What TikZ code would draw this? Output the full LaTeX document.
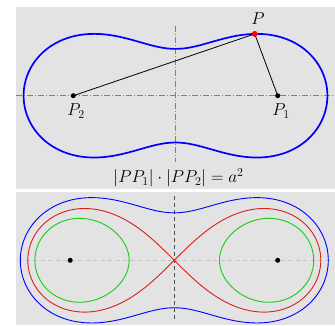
\documentclass[tikz,border=0pt]{standalone}
\usepackage{amsmath}
\definecolor{panel}{RGB}{227,227,227}
\definecolor{axisgray}{RGB}{128,128,128}
\definecolor{lightaxis}{RGB}{195,195,195}
\definecolor{darkaxis}{RGB}{80,80,80}
\definecolor{cblue}{RGB}{0,0,255}
\definecolor{cred}{RGB}{220,30,30}
\definecolor{cgreen}{RGB}{20,205,20}
\begin{document}
\begin{tikzpicture}[x=1pt,y=1pt,
  panelbg/.style={fill=panel,draw=none},
  dashdotaxis/.style={axisgray,line width=0.7pt,dash pattern=on 6pt off 2pt on 1pt off 2pt},
  hdash/.style={lightaxis,line width=0.7pt,dash pattern=on 4pt off 3.5pt},
  vdash/.style={darkaxis,line width=0.7pt,dash pattern=on 4pt off 3pt},
  focusdot/.style={circle,fill=black,inner sep=0pt,minimum size=5pt},
  pdot/.style={circle,fill=red,inner sep=0pt,minimum size=5.6pt},
  lbl/.style={font=\fontsize{17.2}{20}\selectfont,inner sep=0pt},
  seg/.style={black,line width=0.8pt},
  declare function={
    cs(\t)=cos(2*\t);
    rr(\t)=sqrt(cs(\t)+sqrt(cs(\t)*cs(\t)+0.4641));
    gr(\t)=1+0.81*cos(\t);
    gi(\t)=0.81*sin(\t);
    gm(\t)=sqrt(sqrt(gr(\t)*gr(\t)+gi(\t)*gi(\t)));
    ga(\t)=atan2(gi(\t),gr(\t))/2;
    ls(\t)=1+sin(\t)*sin(\t);
  }]
\useasboundingbox (0,0) rectangle (335,325);
% panels
\fill[panelbg] (16,135.7) rectangle (335,318);
\fill[panelbg] (16,0) rectangle (335,133);

% ---------- top panel ----------
\coordinate (tc) at (175.5,229.3);
\coordinate (hL) at (16,229.3);
\coordinate (hR) at (335,229.3);
\coordinate (vT) at (175.5,299);
\coordinate (vB) at (175.5,163.3);
\draw[dashdotaxis] (hL) -- (hR);
\draw[dashdotaxis] (vT) -- (vB);
\draw[cblue,line width=1.7pt,shift={(tc)}] plot[domain=0:360,samples=241,smooth cycle]
  ({102.2*rr(\x)*cos(\x)},{102.2*rr(\x)*sin(\x)});
\node[focusdot] (P1) at (277.7,229.3) {};
\node[focusdot] (P2) at (73.3,229.3) {};
\node[pdot] (P) at (254.7,291.1) {};
\draw[seg] (P2.center) -- (P.center) -- (P1.center);
\node[pdot] at (P) {};
\node[lbl] (lP) at (258,306) {$P$};
\node[lbl] (lP2) at (76,214) {$P_2$};
\node[lbl] (lP1) at (281,214) {$P_1$};
\node[lbl] (form) at (178.5,147) {$|PP_1|\cdot|PP_2|=a^2$};

% ---------- bottom panel ----------
\coordinate (bc) at (174.3,64.7);
\coordinate (bhL) at (18,64.7);
\coordinate (bhR) at (331,64.7);
\coordinate (bvT) at (174.3,129);
\coordinate (bvB) at (174.3,4.3);
\draw[hdash] (bhL) -- (bhR);
\draw[vdash] (bvT) -- (bvB);
\draw[cblue,line width=0.9pt,shift={(bc)}] plot[domain=0:360,samples=241,smooth cycle]
  ({103.6*rr(\x)*cos(\x)},{103.6*rr(\x)*sin(\x)});
\draw[cred,line width=0.9pt,shift={(bc)}] plot[domain=0:360,samples=241,smooth cycle]
  ({146.5*cos(\x)/ls(\x)},{146.5*sin(\x)*cos(\x)/ls(\x)});
\draw[cgreen,line width=0.9pt,shift={(bc)}] plot[domain=0:360,samples=181,smooth cycle]
  ({103.6*gm(\x)*cos(ga(\x))},{103.6*gm(\x)*sin(ga(\x))});
\draw[cgreen,line width=0.9pt,shift={(bc)}] plot[domain=0:360,samples=181,smooth cycle]
  ({-103.6*gm(\x)*cos(ga(\x))},{-103.6*gm(\x)*sin(ga(\x))});
\node[focusdot] (F1) at (277.7,64.7) {};
\node[focusdot] (F2) at (70.2,64.7) {};
\end{tikzpicture}
\end{document}
